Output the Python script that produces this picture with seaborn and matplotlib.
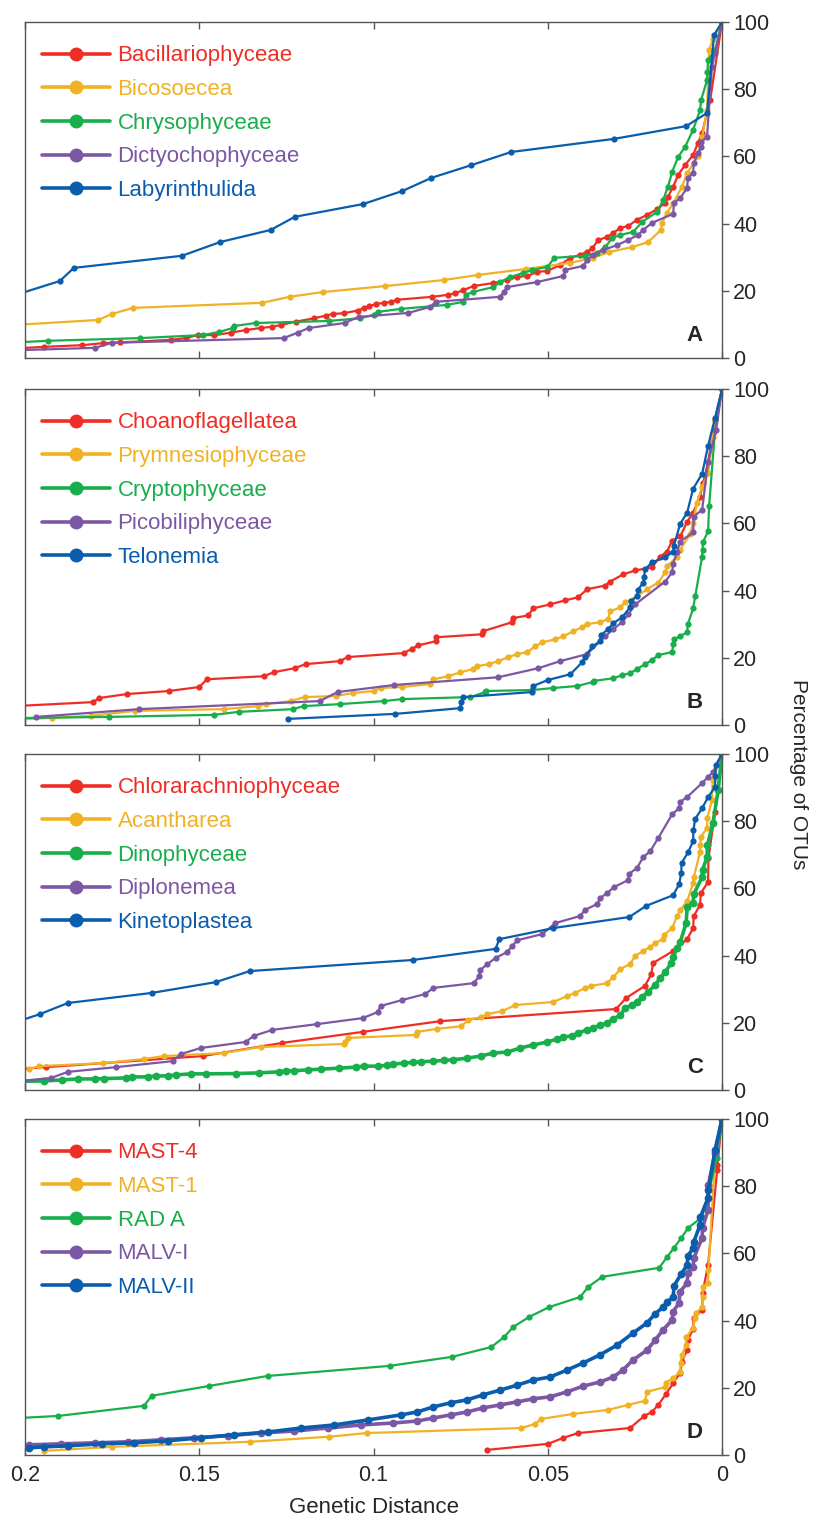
import matplotlib
matplotlib.use("Agg")
import matplotlib.pyplot as plt
from matplotlib.lines import Line2D
import pandas as pd
import seaborn as sns

# ---- panel A ----
bacil_x = [0.205, 0.1945, 0.1836, 0.1777, 0.1728, 0.158, 0.1539, 0.1504, 0.1458, 0.141, 0.1367, 0.1324, 0.129, 0.1266, 0.1223,
           0.117, 0.1137, 0.1117, 0.1085, 0.1046, 0.1028, 0.1014, 0.0994, 0.097, 0.095, 0.0934, 0.0831, 0.0785, 0.0765, 0.0742,
           0.0713, 0.0656, 0.0616, 0.0587, 0.0559, 0.053, 0.0501, 0.0464, 0.0435, 0.0407, 0.0387, 0.0372, 0.0355, 0.033, 0.0312,
           0.0292, 0.0269, 0.0244, 0.0215, 0.0186, 0.0163, 0.0155, 0.014, 0.0126, 0.0106, 0.0083, 0.0069, 0.0057, 0.0034, 0.0]
bacil_y = [2.7, 3.3, 3.8, 4.4, 4.6, 5.4, 5.9, 6.8, 6.8, 7.5, 8.3, 8.9, 9.3, 9.8, 10.8,
           11.8, 12.6, 13.1, 13.3, 14.1, 14.8, 15.4, 16.0, 16.4, 16.7, 17.3, 18.2, 18.8, 19.3, 20.2,
           21.4, 22.3, 23.2, 24.1, 24.4, 25.6, 25.9, 27.7, 29.8, 30.7, 31.6, 32.7, 35.1, 36.0, 37.2,
           38.7, 39.3, 41.1, 42.6, 44.3, 46.1, 48.0, 51.0, 54.5, 57.4, 60.4, 64.0, 67.0, 76.8, 100]
bicos_x = [0.205, 0.179, 0.175, 0.169, 0.132, 0.124, 0.1146, 0.0966, 0.0797, 0.070, 0.0562, 0.0435, 0.037, 0.0324, 0.0258,
           0.0212, 0.0175, 0.0172, 0.0158, 0.014, 0.0115, 0.010, 0.0069, 0.0057, 0.0043, 0.004, 0.0037, 0.0026, 0.0]
bicos_y = [9.7, 11.3, 13.1, 14.9, 16.4, 18.2, 19.6, 21.4, 23.2, 24.7, 26.5, 28.3, 29.8, 31.5, 33.0,
           34.5, 38.1, 40.2, 43.2, 46.0, 51.0, 55.0, 60.0, 65.8, 73.8, 82.7, 91.7, 95.0, 100]
chryso_x = [0.205, 0.1934, 0.167, 0.149, 0.1444, 0.1404, 0.140, 0.1338, 0.1129, 0.104, 0.100, 0.0988, 0.0922, 0.0788, 0.0742,
            0.0736, 0.0716, 0.0656, 0.0636, 0.0607, 0.057, 0.0544, 0.0501, 0.0481, 0.0393, 0.0358, 0.0335, 0.0315, 0.0292, 0.0255,
            0.0229, 0.0186, 0.0169, 0.0155, 0.0143, 0.0126, 0.0106, 0.0083, 0.0063, 0.006, 0.0043, 0.0042, 0.004, 0.002, 0.0]
chryso_y = [4.5, 5.1, 5.9, 6.8, 7.7, 8.9, 9.5, 10.4, 11.0, 11.8, 12.8, 13.7, 14.6, 15.8, 16.7,
            18.8, 19.6, 21.1, 22.6, 24.1, 25.3, 26.2, 27.1, 29.8, 30.4, 31.2, 33.0, 35.7, 36.6, 37.5,
            40.5, 43.5, 47.0, 51.0, 55.4, 59.8, 62.8, 67.9, 73.8, 76.8, 82.7, 85.1, 88.7, 91.7, 100]
dictyo_x = [0.205, 0.180, 0.175, 0.1258, 0.1218, 0.1186, 0.1083, 0.1043, 0.090, 0.0837, 0.0822, 0.0636, 0.0627, 0.0616, 0.053,
            0.0455, 0.045, 0.0398, 0.0387, 0.037, 0.0341, 0.0301, 0.0269, 0.0241, 0.0226, 0.0201, 0.014, 0.0138, 0.012, 0.010,
            0.0098, 0.0083, 0.0081, 0.0069, 0.006, 0.0059, 0.0043, 0.0029, 0.002, 0.0]
dictyo_y = [2.2, 3.0, 4.5, 5.9, 7.5, 8.9, 10.4, 12.2, 13.4, 15.2, 16.7, 18.2, 19.6, 21.1, 22.6,
            24.4, 26.2, 27.4, 29.2, 30.7, 32.1, 33.6, 35.1, 36.6, 38.1, 40.2, 42.9, 46.1, 47.6, 50.6,
            53.6, 55.1, 58.0, 61.0, 62.8, 64.3, 65.8, 86.6, 90.8, 100]
labyr_x = [0.205, 0.190, 0.186, 0.155, 0.144, 0.1295, 0.1226, 0.103, 0.0917, 0.0834, 0.0719, 0.0605, 0.031, 0.0103, 0.0043,
           0.0023, 0.0]
labyr_y = [18.0, 22.9, 26.8, 30.4, 34.5, 38.1, 42.0, 45.8, 49.7, 53.6, 57.4, 61.3, 65.2, 69.0, 72.9, 96.1, 100]

# ---- panel B ----
choano_x = [0.205, 0.1805, 0.1788, 0.1708, 0.1587, 0.150, 0.1478, 0.1315, 0.1286, 0.1226, 0.1195, 0.1097, 0.1074, 0.0914, 0.0891,
            0.0871, 0.0822, 0.082, 0.0688, 0.0686, 0.0602, 0.060, 0.0556, 0.0542, 0.0493, 0.045, 0.0413, 0.0387, 0.0335, 0.0321,
            0.0284, 0.0249, 0.0201, 0.0178, 0.0158, 0.0143, 0.012, 0.010, 0.0083, 0.0063, 0.0054, 0.004, 0.0026, 0.002, 0.0]
choano_y = [5.5, 6.8, 8.0, 9.2, 10.1, 11.3, 13.6, 14.5, 15.7, 16.9, 18.1, 19.0, 20.2, 21.4, 22.6,
            23.7, 24.9, 26.1, 27.0, 27.9, 30.6, 31.8, 32.6, 34.7, 35.9, 37.1, 38.0, 40.4, 41.5, 42.7,
            44.8, 46.0, 46.9, 50.1, 51.6, 54.9, 56.1, 60.5, 63.2, 68.0, 72.1, 78.3, 86.9, 90.8, 100]
prymn_x = [0.205, 0.1922, 0.181, 0.1685, 0.143, 0.1332, 0.1309, 0.1238, 0.1198, 0.1109, 0.106, 0.100, 0.098, 0.0917, 0.0837,
           0.0828, 0.0785, 0.0751, 0.0716, 0.0702, 0.067, 0.0642, 0.0613, 0.0587, 0.0559, 0.0536, 0.0516, 0.0478, 0.0455, 0.0427,
           0.0401, 0.0387, 0.035, 0.0327, 0.0321, 0.0292, 0.0278, 0.0244, 0.0215, 0.0183, 0.0163, 0.0158, 0.0129, 0.012, 0.0092,
           0.0083, 0.0072, 0.0057, 0.004, 0.0026, 0.002, 0.0]
prymn_y = [1.5, 2.1, 2.7, 4.2, 4.7, 5.6, 6.2, 7.1, 8.3, 8.6, 9.5, 10.1, 11.0, 11.3, 12.2,
           13.6, 14.5, 15.7, 16.6, 17.5, 18.1, 19.0, 20.2, 21.1, 21.7, 23.4, 24.6, 25.5, 26.4, 27.9,
           29.1, 30.0, 30.6, 31.5, 33.8, 35.0, 36.5, 38.3, 40.4, 42.4, 45.4, 47.2, 50.1, 52.2, 56.7,
           60.2, 66.2, 70.9, 75.0, 85.8, 90.8, 100]
crypto_x = [0.205, 0.1759, 0.1458, 0.1387, 0.1232, 0.12, 0.1097, 0.0971, 0.0917, 0.0722, 0.0679, 0.0676, 0.0544, 0.0484, 0.0415,
            0.037, 0.0368, 0.0312, 0.0287, 0.0264, 0.0244, 0.0221, 0.0201, 0.0183, 0.0143, 0.014, 0.0138, 0.012, 0.010, 0.0098,
            0.0083, 0.0077, 0.0057, 0.0056, 0.0054, 0.004, 0.0037, 0.002, 0.0]
crypto_y = [2.0, 2.4, 3.0, 3.9, 4.7, 5.6, 6.2, 7.1, 7.7, 8.3, 9.8, 10.1, 10.4, 11.0, 11.6,
            12.8, 13.1, 13.9, 14.8, 15.4, 16.6, 18.1, 19.3, 20.8, 21.7, 24.0, 25.5, 26.4, 27.6, 30.0,
            34.7, 38.3, 50.1, 52.2, 54.6, 57.6, 65.3, 87.8, 100]
picob_x = [0.1968, 0.1673, 0.1155, 0.1103, 0.094, 0.0642, 0.0527, 0.0464, 0.0387, 0.0335, 0.0312, 0.0287, 0.0269, 0.0249, 0.0163,
           0.0143, 0.0141, 0.0129, 0.012, 0.0083, 0.0081, 0.0057, 0.004, 0.0017, 0.0]
picob_y = [2.4, 4.7, 7.1, 9.8, 11.9, 14.2, 16.9, 19.0, 21.1, 26.4, 28.5, 30.6, 32.9, 35.9, 42.7,
           45.4, 47.8, 51.6, 54.6, 57.3, 62.0, 64.1, 78.3, 87.8, 100]
telon_x = [0.1246, 0.0937, 0.0751, 0.0749, 0.0742, 0.0544, 0.0542, 0.0499, 0.0435, 0.0401, 0.0393, 0.0372, 0.035, 0.0348, 0.0327,
           0.0312, 0.0287, 0.0264, 0.0262, 0.0244, 0.0242, 0.0226, 0.0224, 0.0221, 0.0201, 0.0163, 0.014, 0.0138, 0.012, 0.01,
           0.0083, 0.0057, 0.004, 0.002, 0.0]
telon_y = [1.8, 3.3, 5.0, 6.8, 8.3, 9.8, 11.6, 13.4, 15.1, 18.7, 20.2, 23.4, 24.9, 26.7, 28.5,
           30.3, 32.0, 35.0, 36.8, 38.3, 40.1, 42.4, 43.9, 46.3, 48.4, 49.9, 51.6, 53.4, 59.9, 63.2,
           70.3, 74.8, 83.1, 91.4, 100]

# ---- panel C ----
chlor_x = [0.205, 0.194, 0.149, 0.1263, 0.1031, 0.0808, 0.0304, 0.0275, 0.0221, 0.0203, 0.0198, 0.014, 0.010, 0.0083, 0.0081,
           0.0063, 0.0061, 0.004, 0.0039, 0.002, 0.0]
chlor_y = [6.0, 6.8, 10.1, 14.0, 17.3, 20.5, 24.1, 27.4, 31.0, 34.5, 37.8, 41.4, 44.9, 48.2, 51.8,
           55.1, 58.6, 61.9, 69.0, 82.7, 100]
acanth_x = [0.199, 0.196, 0.1777, 0.166, 0.1602, 0.143, 0.1324, 0.1085, 0.1083, 0.1072, 0.0877, 0.0875, 0.0817, 0.0748, 0.0728,
            0.0693, 0.0673, 0.063, 0.0593, 0.0484, 0.0444, 0.0421, 0.0393, 0.0375, 0.033, 0.0312, 0.0292, 0.0264, 0.0249, 0.0226,
            0.0206, 0.0192, 0.0169, 0.0167, 0.0143, 0.0129, 0.012, 0.01, 0.0083, 0.0081, 0.0063, 0.0062, 0.0061, 0.0043, 0.0042,
            0.0029, 0.0027, 0.0]
acanth_y = [6.2, 7.1, 8.0, 9.2, 10.1, 11.0, 12.8, 13.7, 14.3, 15.5, 16.4, 17.3, 18.2, 19.0, 20.8,
            21.7, 22.6, 23.5, 25.3, 26.2, 28.0, 28.9, 30.4, 31.0, 31.8, 33.6, 36.0, 37.5, 39.9, 41.4,
            42.6, 43.8, 44.9, 46.1, 48.2, 51.8, 53.6, 56.2, 61.6, 63.4, 70.8, 72.9, 75.3, 78.0, 81.0,
            86.3, 92.3, 100]
dino_x = [0.205, 0.1945, 0.1894, 0.1848, 0.180, 0.1773, 0.171, 0.1693, 0.1647, 0.1624, 0.159, 0.1567, 0.1524, 0.1481, 0.1395,
          0.133, 0.1272, 0.1252, 0.1229, 0.1189, 0.1152, 0.11, 0.1051, 0.1028, 0.0986, 0.096, 0.0943, 0.0914, 0.0888, 0.0865,
          0.0828, 0.0799, 0.0771, 0.0731, 0.0693, 0.0656, 0.0616, 0.0579, 0.0542, 0.0501, 0.0473, 0.0455, 0.043, 0.0413, 0.0387,
          0.037, 0.035, 0.033, 0.0312, 0.0292, 0.0278, 0.0258, 0.0244, 0.0229, 0.0212, 0.0192, 0.0178, 0.0163, 0.0146, 0.014,
          0.0129, 0.012, 0.0103, 0.010, 0.0083, 0.0081, 0.0057, 0.0056, 0.0043, 0.0042, 0.0026, 0.0011, 0.0]
dino_y = [2.5, 2.7, 3.0, 3.3, 3.3, 3.4, 3.6, 3.9, 3.9, 4.2, 4.2, 4.5, 4.8, 4.8, 4.9,
          5.1, 5.4, 5.7, 5.7, 6.0, 6.2, 6.5, 6.8, 7.1, 7.1, 7.4, 7.7, 8.0, 8.2, 8.4,
          8.6, 8.8, 9.0, 9.5, 10.1, 11.0, 11.3, 12.5, 13.4, 14.3, 15.2, 15.8, 16.1, 17.0, 17.9,
          18.5, 19.3, 19.9, 21.1, 22.3, 24.4, 25.3, 26.2, 27.7, 29.2, 31.2, 33.3, 35.1, 37.8, 39.6,
          42.3, 44.0, 49.7, 54.5, 55.7, 58.3, 63.4, 65.5, 69.3, 72.9, 79.5, 89.3, 100]
diplo_x = [0.205, 0.1925, 0.1877, 0.1739, 0.1576, 0.1553, 0.1496, 0.1367, 0.1344, 0.129, 0.1163, 0.1031, 0.0988, 0.098, 0.0917,
           0.0851, 0.0828, 0.0713, 0.0696, 0.0694, 0.0673, 0.065, 0.0616, 0.0602, 0.0587, 0.0516, 0.0478, 0.0407, 0.0393, 0.0358,
           0.035, 0.033, 0.031, 0.0269, 0.0267, 0.0244, 0.0226, 0.0206, 0.0183, 0.0143, 0.0123, 0.0121, 0.01, 0.0057, 0.004,
           0.0026, 0.0]
diplo_y = [2.3, 3.6, 5.4, 6.8, 8.6, 10.7, 12.5, 14.3, 16.1, 17.9, 19.6, 21.4, 23.2, 25.0, 26.8,
           28.6, 30.4, 31.8, 33.9, 35.7, 37.5, 39.3, 41.1, 42.9, 44.6, 46.4, 49.7, 51.8, 53.6, 55.4,
           57.1, 58.6, 60.4, 62.5, 64.3, 66.1, 69.3, 71.1, 75.0, 82.1, 83.9, 85.7, 87.2, 91.4, 93.2,
           94.6, 100]
kineto_x = [0.205, 0.1957, 0.1877, 0.1636, 0.1453, 0.1355, 0.0888, 0.065, 0.0639, 0.0484, 0.0266, 0.0218, 0.014, 0.0123, 0.0117,
            0.0116, 0.0097, 0.0083, 0.0082, 0.0077, 0.0057, 0.004, 0.002, 0.0019, 0.0018, 0.0]
kineto_y = [19.4, 22.6, 25.9, 28.9, 32.1, 35.4, 38.7, 42.0, 44.9, 48.2, 51.5, 54.8, 58.0, 61.3, 64.6,
            67.6, 70.8, 74.1, 77.4, 80.7, 83.9, 87.2, 90.2, 93.5, 96.7, 100]

# ---- panel D ----
mast4_x = [0.0673, 0.0499, 0.0455, 0.0413, 0.0264, 0.0223, 0.0201, 0.0183, 0.016, 0.014, 0.012, 0.0115, 0.01, 0.0098, 0.0083,
           0.0081, 0.0057, 0.0056, 0.004, 0.0014, 0.0013, 0.0]
mast4_y = [1.5, 3.3, 5.1, 6.5, 8.0, 11.6, 12.8, 14.9, 18.2, 21.4, 24.4, 27.7, 31.2, 34.2, 37.5,
           40.8, 43.2, 48.2, 56.5, 84.8, 86.3, 100]
mast1_x = [0.1945, 0.175, 0.1355, 0.1129, 0.102, 0.0576, 0.0536, 0.0519, 0.0427, 0.0327, 0.0269, 0.0221, 0.0215, 0.0163, 0.0162,
           0.014, 0.012, 0.0119, 0.0115, 0.0103, 0.0102, 0.0083, 0.0077, 0.0076, 0.0057, 0.0056, 0.0055, 0.004, 0.0039, 0.002,
           0.0]
mast1_y = [1.2, 2.4, 3.9, 5.4, 6.5, 8.0, 9.2, 10.7, 12.2, 13.4, 14.9, 16.1, 18.8, 20.2, 21.4,
           22.9, 24.7, 27.4, 29.8, 32.7, 35.1, 37.8, 40.8, 42.1, 44.0, 47.0, 50.0, 51.2, 55.1, 88.7,
           100]
rada_x = [0.205, 0.1905, 0.1659, 0.1636, 0.1473, 0.1304, 0.0954, 0.0774, 0.0662, 0.0625, 0.0599, 0.0553, 0.0496, 0.0407, 0.0384,
          0.0344, 0.018, 0.0158, 0.0138, 0.0117, 0.0097, 0.0057, 0.0014, 0.0]
rada_y = [10.8, 11.6, 14.6, 17.6, 20.5, 23.5, 26.5, 29.2, 32.1, 35.1, 38.1, 41.1, 44.0, 47.0, 50.0,
          53.0, 55.7, 58.9, 61.6, 64.6, 67.6, 70.8, 88.4, 100]
malv1_x = [0.205, 0.199, 0.1897, 0.180, 0.1705, 0.161, 0.1516, 0.1418, 0.1324, 0.1229, 0.1132, 0.1037, 0.0943, 0.0874, 0.0828,
           0.0779, 0.0731, 0.0685, 0.0636, 0.0587, 0.0542, 0.0493, 0.0444, 0.0398, 0.035, 0.0312, 0.0284, 0.0255, 0.0215, 0.0192,
           0.0169, 0.0143, 0.0141, 0.0123, 0.0121, 0.01, 0.0098, 0.0083, 0.0081, 0.0057, 0.0056, 0.004, 0.0039, 0.002, 0.0]
malv1_y = [2.8, 3.0, 3.3, 3.6, 3.9, 4.5, 5.1, 5.7, 6.5, 7.1, 8.0, 8.9, 9.5, 10.1, 11.0,
           11.9, 12.8, 14.0, 14.9, 15.8, 16.7, 17.3, 18.8, 20.5, 21.7, 23.2, 25.3, 28.3, 31.2, 34.2,
           37.2, 40.2, 42.6, 45.2, 48.5, 51.2, 54.2, 56.0, 58.6, 64.6, 67.6, 72.9, 80.4, 89.9, 100]
malv2_x = [0.205, 0.199, 0.1945, 0.1877, 0.178, 0.1687, 0.159, 0.1496, 0.140, 0.1304, 0.1209, 0.1114, 0.1017, 0.0922, 0.0874,
           0.0828, 0.0779, 0.0731, 0.0685, 0.0636, 0.0587, 0.0542, 0.0493, 0.0444, 0.0398, 0.035, 0.0301, 0.0255, 0.0215, 0.0192,
           0.0169, 0.0158, 0.014, 0.0138, 0.0117, 0.010, 0.0098, 0.0083, 0.0081, 0.0063, 0.0062, 0.004, 0.0039, 0.002, 0.0]
malv2_y = [1.8, 2.1, 2.4, 2.7, 3.3, 3.6, 4.2, 5.1, 6.0, 6.8, 8.0, 8.9, 10.4, 11.9, 12.8,
           14.3, 15.5, 16.4, 17.9, 19.3, 20.8, 22.3, 23.2, 25.3, 27.4, 29.8, 32.7, 36.3, 39.3, 42.0,
           44.0, 45.5, 47.0, 50.3, 53.9, 56.5, 59.2, 61.6, 63.4, 68.5, 70.8, 76.5, 78.9, 90.8, 100]

colors = ["#EE2E24", "#F0B224", "#18AE4B", "#7C57A4", "#0A5DAC"]
# groups whose points crowd into a thick band in the figure
dense = ["Dinophyceae", "MALV-I", "MALV-II"]

panels = [
    ("A", ["Bacillariophyceae", "Bicosoecea", "Chrysophyceae", "Dictyochophyceae", "Labyrinthulida"],
     [(bacil_x, bacil_y), (bicos_x, bicos_y), (chryso_x, chryso_y), (dictyo_x, dictyo_y), (labyr_x, labyr_y)]),
    ("B", ["Choanoflagellatea", "Prymnesiophyceae", "Cryptophyceae", "Picobiliphyceae", "Telonemia"],
     [(choano_x, choano_y), (prymn_x, prymn_y), (crypto_x, crypto_y), (picob_x, picob_y), (telon_x, telon_y)]),
    ("C", ["Chlorarachniophyceae", "Acantharea", "Dinophyceae", "Diplonemea", "Kinetoplastea"],
     [(chlor_x, chlor_y), (acanth_x, acanth_y), (dino_x, dino_y), (diplo_x, diplo_y), (kineto_x, kineto_y)]),
    ("D", ["MAST-4", "MAST-1", "RAD A", "MALV-I", "MALV-II"],
     [(mast4_x, mast4_y), (mast1_x, mast1_y), (rada_x, rada_y), (malv1_x, malv1_y), (malv2_x, malv2_y)]),
]

sns.set_style("white")
plt.rcParams["font.family"] = ["Liberation Sans", "DejaVu Sans"]

fig = plt.figure(figsize=(8.13, 15.16), dpi=100)
tops = [0.9855, 0.7434, 0.5026, 0.2619]
height = 0.2216
spine_col = "#555555"

for i, (letter, names, series) in enumerate(panels):
    ax = fig.add_axes([0.0308, tops[i] - height, 0.8573, height])
    for name, color, (x, y) in zip(names, colors, series):
        big = name in dense
        df = pd.DataFrame({"dist": x, "pct": y})
        sns.lineplot(data=df, x="dist", y="pct", color=color, estimator=None, sort=False,
                     marker="o", markersize=5.6 if big else 4.5, markeredgewidth=0,
                     linewidth=2.6 if big else 1.6, ax=ax)

    ax.set_xlim(0.2, 0)
    ax.set_ylim(0, 100)
    ax.set_xticks([0.2, 0.15, 0.1, 0.05, 0])
    ax.set_yticks([0, 20, 40, 60, 80, 100])
    ax.yaxis.tick_right()
    ax.tick_params(axis="x", direction="in", top=True, bottom=True, length=5, width=1,
                   color=spine_col, labelsize=15.5, pad=7)
    ax.tick_params(axis="y", direction="out", right=True, left=False, length=5, width=1,
                   color=spine_col, labelsize=15.5, pad=3)
    for sp in ax.spines.values():
        sp.set_color(spine_col)
        sp.set_linewidth(1)
    ax.set_ylabel("")
    if letter == "D":
        ax.set_xticklabels(["0.2", "0.15", "0.1", "0.05", "0"])
        ax.set_xlabel("Genetic Distance", fontsize=16, labelpad=8)
    else:
        ax.tick_params(axis="x", labelbottom=False)
        ax.set_xlabel("")

    handles = [Line2D([], [], color=c, lw=2.6, marker="o", markersize=9) for c in colors]
    ax.legend(handles, names, loc="upper left", bbox_to_anchor=(0.011, 0.957), frameon=False,
              fontsize=16, handlelength=3.1, handletextpad=0.32, labelspacing=0.57,
              labelcolor=colors, borderaxespad=0)
    ax.text(0.961, 0.068, letter, transform=ax.transAxes, fontsize=16, fontweight="bold",
            ha="center", va="center")

fig.text(0.982, 0.489, "Percentage of OTUs", rotation=270, fontsize=15, ha="center", va="center")

fig.savefig("out.png", dpi=100)
